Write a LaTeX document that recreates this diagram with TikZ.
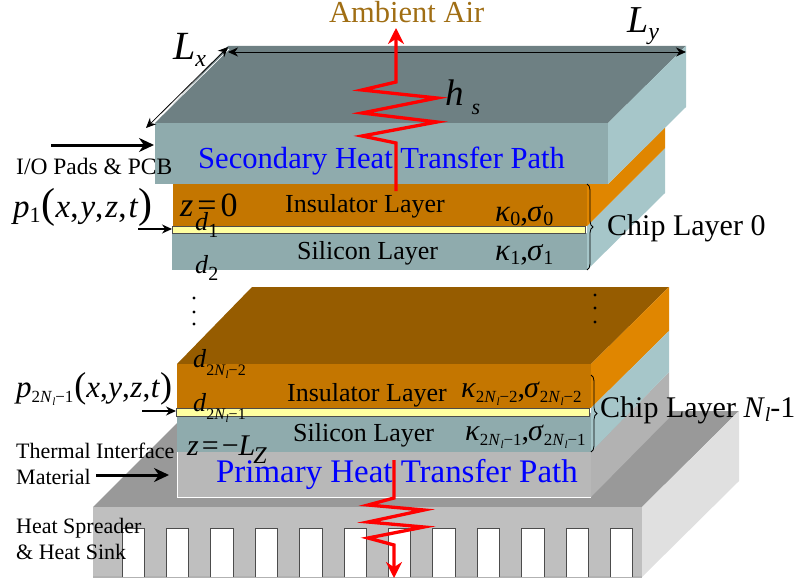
\documentclass[tikz,border=0pt]{standalone}
\usepackage{fontspec}
\setmainfont{Liberation Serif}
\usetikzlibrary{arrows.meta,decorations.pathreplacing}

\newcommand{\fsz}[1]{\fontsize{#1}{#1}\selectfont}
\newcommand{\lowtxt}[3]{\raisebox{-#1pt}{\fsz{#2}#3}}
\newcommand{\Nlsub}[1]{\textit{N}\lowtxt{3}{#1}{\textit{l}}}
\newcommand{\xyzt}[1]{\textit{x},\kern#1pt\textit{y},\kern#1pt\textit{z},\kern#1pt\textit{t}}

\definecolor{slabtop}{HTML}{6E8083}
\definecolor{slabfront}{HTML}{8FABAD}
\definecolor{slabside}{HTML}{A6C6C9}
\definecolor{insfront}{HTML}{C47600}
\definecolor{insside}{HTML}{E08600}
\definecolor{instop}{HTML}{965C00}
\definecolor{heater}{HTML}{FFFFA0}
\definecolor{airtxt}{HTML}{A06E14}

\tikzset{
	lbl/.style={inner sep=0pt, anchor=base west},
	layertxt/.style={lbl, font=\fsz{26}},
	pathtxt/.style={lbl, text=blue},
	sidetxt/.style={lbl, font=\fsz{22}},
	chiptxt/.style={lbl, font=\fsz{30}},
	thickarrow/.style={line width=3pt, -{Stealth[length=15pt,width=14pt]}},
	thinarrow/.style={line width=1.3pt, -{Stealth[length=10pt,width=9pt]}},
	dimarrow/.style={line width=0.8pt, {Stealth[length=10pt,width=9pt]}-{Stealth[length=10pt,width=9pt]}},
	heatpath/.style={red, line width=3.3pt, miter limit=10, -{Stealth[length=16pt,width=16pt]}},
	heaterbar/.style={draw=black!70, line width=1pt, fill=heater},
	bracepath/.style={decorate, decoration={brace, amplitude=6pt}, line width=0.8pt},
}

\begin{document}
\begin{tikzpicture}[x=1pt, y=-1pt]
\useasboundingbox (0,0) rectangle (797,583);

% Heat sink
	\fill[black!40] (93,507) -- (177,423) -- (669,411) -- (739,411) -- (642,507) -- cycle;
	\fill[black!12] (642,507) -- (739,411) -- (739,481) -- (642,577) -- cycle;
	\fill[black!25] (93,507) rectangle (642,577);
	\draw[black!30, line width=1.2pt] (93,577) -- (642,577);
	\foreach \i in {0, 1, ..., 11} {
		\fill[white] (122+44.4*\i,528) rectangle (144.5+44.4*\i,577);
		\draw[black!70, line width=0.9pt] (122+44.4*\i,577) -- (122+44.4*\i,528) -- (144.5+44.4*\i,528) -- (144.5+44.4*\i,577);
	}

% Interface material
	\fill[black!30] (591,452) -- (669,372) -- (669,418) -- (591,497) -- cycle;
	\fill[black!28] (177,452) rectangle (591,497);
	\draw[white, line width=1pt] (177,452) -- (177,497) -- (591,497);

% Bottom chip layer
	\fill[instop] (177,364) -- (252,287) -- (669,287) -- (591,364) -- cycle;
	\fill[insside] (591,364) -- (669,287) -- (669,331) -- (591,408) -- cycle;
	\fill[slabside] (591,408) -- (669,331) -- (669,372) -- (591,452) -- cycle;
	\fill[insfront] (177,364) rectangle (591,408);
	\fill[slabfront] (177,416) rectangle (591,452);
	\draw[heaterbar] (176,408) rectangle (589,416);

% Top chip layer
	\fill[slabside] (587,226) -- (665,148) -- (665,193) -- (587,270) -- cycle;
	\fill[insside] (587,184) -- (608,184) -- (665,127) -- (665,148) -- (587,226) -- cycle;
	\fill[insfront] (173,184) rectangle (587,226);
	\fill[slabfront] (172,233) rectangle (587,270);
	\draw[heaterbar] (172,226) rectangle (585,233);

% Top slab
	\fill[slabtop] (155,123) -- (228,46) -- (686,46) -- (608,123) -- cycle;
	\fill[slabside] (608,123) -- (686,46) -- (686,107) -- (608,184) -- cycle;
	\fill[slabfront] (155,123) rectangle (608,184);

% Dimensions
	\coordinate (LxA) at (146,128);
	\coordinate (LxB) at (228,47);
	\coordinate (LyA) at (228,52);
	\coordinate (LyB) at (686,52);
	\draw[white, line width=0.8pt] (148,129) -- (229,49);
	\draw[dimarrow] (LxA) -- (LxB);
	\draw[dimarrow] (LyA) -- (LyB);

% Heat paths
	\coordinate (secBot) at (396,191);
	\coordinate (secTop) at (396,28);
	\draw[heatpath] (secBot) -- (396,143) -- (362,136) -- (437,122) -- (362,113) -- (437,98) -- (362,90) -- (396,82) -- (secTop);
	\coordinate (priTop) at (394,460);
	\coordinate (priBot) at (394,578);
	\draw[heatpath] (priTop) -- (394,498) -- (368,505) -- (424,510) -- (368,522) -- (424,527) -- (368,538) -- (394,545) -- (priBot);

% Side arrows
	\coordinate (ioA) at (51,145);
	\coordinate (ioB) at (154,145);
	\coordinate (pTopA) at (138,229);
	\coordinate (pTopB) at (172,229);
	\coordinate (pBotA) at (142,411);
	\coordinate (pBotB) at (176,411);
	\coordinate (timA) at (96,475);
	\coordinate (timB) at (169,475);
	\draw[thickarrow] (ioA) -- (ioB);
	\draw[thickarrow] (timA) -- (timB);
	\draw[thinarrow] (pTopA) -- (pTopB);
	\draw[thinarrow] (pBotA) -- (pBotB);

% Braces
	\coordinate (brTopA) at (587,184);
	\coordinate (brTopB) at (587,270);
	\coordinate (brBotA) at (591,375);
	\coordinate (brBotB) at (591,452);
	\draw[bracepath] (brTopA) -- (brTopB);
	\draw[bracepath] (brBotA) -- (brBotB);

% Dots
	\foreach \y in {298, 312, 324}
		\fill (194,\y) circle (1.7);
	\foreach \y in {295, 308, 322}
		\fill (595,\y) circle (1.7);

% Labels
	\node[lbl, text=airtxt, font=\fsz{30.5}] (air) at (329,23) {Ambient Air};
	\node[lbl, font=\fsz{40}\itshape] (Lx) at (173,60) {L\lowtxt{7}{24}{x}};
	\node[lbl, font=\fsz{38}\itshape] (Ly) at (627,33) {L\lowtxt{7}{24}{y}};
	\node[lbl, font=\fsz{37}\itshape] (hs) at (445,106) {h\hspace{8pt}\lowtxt{9}{22}{s}};
	\node[pathtxt, font=\fsz{30.6}] (secpath) at (198,168) {Secondary Heat Transfer Path};
	\node[pathtxt, font=\fsz{32.9}] (pripath) at (216,482) {Primary Heat Transfer Path};
	\node[layertxt] (insA) at (285,212) {Insulator Layer};
	\node[layertxt] (insB) at (287,401) {Insulator Layer};
	\node[layertxt] (silA) at (297,259) {Silicon Layer};
	\node[layertxt] (silB) at (293,441) {Silicon Layer};
	\node[chiptxt] (chipA) at (607,235) {Chip Layer 0};
	\node[chiptxt] (chipB) at (600,417) {Chip Layer \textit{N}\lowtxt{4}{20}{\textit{l}}-1};
	\node[lbl, font=\fsz{23.5}] (io) at (16,174) {I/O Pads \& PCB};
	\node[sidetxt] (timC) at (16,458) {Thermal Interface};
	\node[sidetxt] (timD) at (16,484) {Material};
	\node[sidetxt] (sinkA) at (16,533) {Heat Spreader};
	\node[sidetxt] (sinkB) at (16,559) {\& Heat Sink};

	\node[lbl, font=\fsz{33}] (pA) at (13,217) {\textit{p}\lowtxt{5}{22}{1}\kern1pt{\fsz{42}(}\xyzt{2}{\fsz{42})}};
	\node[lbl, font=\fsz{31}] (pB) at (16,397) {\textit{p}\lowtxt{5}{17}{2\Nlsub{11}−1}\kern1pt{\fsz{36}(}\xyzt{0.5}{\fsz{36})}};
	\node[lbl, font=\fsz{34}] (zA) at (180,216) {\textit{z}\kern4pt=\kern4pt0};
	\node[lbl, font=\fsz{30}] (zB) at (187,455) {\textit{z}\kern3pt=\kern3pt−\textit{L}\kern-2pt\lowtxt{8}{24}{\textit{Z}}};
	\node[lbl, font=\fsz{26}] (dA) at (195,230) {\textit{d}\lowtxt{7}{20}{1}};
	\node[lbl, font=\fsz{26}] (dB) at (195,273) {\textit{d}\lowtxt{7}{20}{2}};
	\node[lbl, font=\fsz{26}] (dC) at (193,367) {\textit{d}\lowtxt{8}{16}{2\Nlsub{11}−2}};
	\node[lbl, font=\fsz{26}] (dD) at (193,411) {\textit{d}\lowtxt{8}{16}{2\Nlsub{11}−1}};
	\node[lbl, font=\fsz{31}] (kA) at (495,221) {\textit{κ}\lowtxt{4}{20}{0},\kern-1pt\textit{σ}\lowtxt{4}{20}{0}};
	\node[lbl, font=\fsz{31}] (kB) at (495,260) {\textit{κ}\lowtxt{4}{20}{1},\kern-1pt\textit{σ}\lowtxt{4}{20}{1}};
	\node[lbl, font=\fsz{30}] (kC) at (461,397) {\textit{κ}\lowtxt{5}{17}{2\Nlsub{11}−2},\kern-1pt\textit{σ}\lowtxt{5}{17}{2\Nlsub{11}−2}};
	\node[lbl, font=\fsz{30}] (kD) at (465,440) {\textit{κ}\lowtxt{5}{17}{2\Nlsub{11}−1},\kern-1pt\textit{σ}\lowtxt{5}{17}{2\Nlsub{11}−1}};
\end{tikzpicture}
\end{document}
